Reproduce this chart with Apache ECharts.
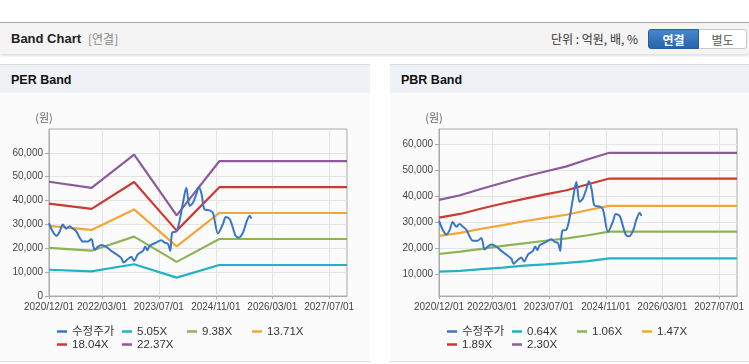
<!DOCTYPE html>
<html>
<head>
<meta charset="utf-8">
<script src="https://cdn.jsdelivr.net/npm/echarts@6/dist/echarts.min.js"></script>
<style>
body{margin:0;width:749px;height:364px;background:#fff;position:relative;overflow:hidden;font-family:'Liberation Sans','Noto Sans CJK KR',sans-serif}
.top{position:absolute;left:0;top:22px;width:749px;height:31px;border-top:1px solid #a8a8a8;background:#f4f4f4;box-shadow:0 2px 2px rgba(0,0,0,0.12)}
.top .ttl{position:absolute;left:11px;top:8px;font-size:13px;font-weight:bold;color:#222}
.top .sub{position:absolute;left:88px;top:9px;font-size:12px;color:#888;font-family:'Noto Sans CJK KR',sans-serif;line-height:14px}
.top .unit{position:absolute;left:551px;top:9px;font-size:12px;color:#333;font-family:'Noto Sans CJK KR',sans-serif;line-height:14px}
.btn{position:absolute;top:6px;height:20px;line-height:20px;font-size:12px;text-align:center;font-family:'Noto Sans CJK KR',sans-serif;box-sizing:border-box}
.b1{left:648px;width:51px;background:linear-gradient(#4386d0,#2a65ab);color:#fff;font-weight:bold;border-radius:3px 0 0 3px;border:1px solid #2a5d9c}
.b2{left:699px;width:48px;background:#fff;color:#555;border:1px solid #c8c8c8;border-left:none;border-radius:0 3px 3px 0}
.panel{position:absolute;top:64px;height:296px;background:#fbfbfb;border-top:1px solid #dcdcdc;border-bottom:1px solid #dcdcdc}
.panel .hd{height:28px;background:#eef2f7;font-size:12.5px;font-weight:bold;color:#111;line-height:30px;padding-left:11px}
.chart{position:absolute;left:0;top:29px;height:267px}
</style>
</head>
<body>
<div class="top">
  <div class="ttl">Band Chart</div>
  <div class="sub">[연결]</div>
  <div class="unit">단위 : 억원, 배, %</div>
  <div class="btn b1">연결</div>
  <div class="btn b2">별도</div>
</div>
<div class="panel" style="left:0;width:370px">
  <div class="hd">PER Band</div>
  <div class="chart" id="per" style="width:370px"></div>
</div>
<div class="panel" style="left:390px;width:359px">
  <div class="hd">PBR Band</div>
  <div class="chart" id="pbr" style="width:359px"></div>
</div>
<script>
// x축 눈금
const xTicks = ['2020-12-01','2022-03-01','2023-07-01','2024-11-01','2026-03-01','2027-07-01']
const xMin = '2020-12-01'
const xMax = '2027-12-01'

// 수정주가
const priceDates = ['2020-12-01','2021-01-02','2021-02-03','2021-03-01','2021-03-29','2021-04-28','2021-05-26','2021-06-24','2021-07-25','2021-08-20',
  '2021-09-18','2021-10-28','2021-11-29','2021-12-27','2022-01-22','2022-02-23','2022-04-06','2022-05-19','2022-07-01','2022-08-13',
  '2022-09-02','2022-10-09','2022-11-07','2022-11-30','2023-01-03','2023-02-15','2023-03-06','2023-03-25','2023-04-12','2023-06-09',
  '2023-07-22','2023-08-19','2023-09-17','2023-10-07','2023-10-24','2023-11-28','2023-12-26','2024-01-24','2024-02-22','2024-03-21',
  '2024-04-19','2024-05-17','2024-06-09','2024-07-02','2024-07-27','2024-09-09','2024-10-07','2024-11-20','2025-01-02','2025-01-25',
  '2025-03-01','2025-04-20','2025-05-18','2025-06-22','2025-07-20','2025-08-18','2025-09-02']
const priceValues = [30500,27000,25200,26800,30000,28200,29200,28200,27000,24500,
  22800,22800,23900,19400,20500,21400,20600,18900,17500,15900,
  14000,15500,16400,14800,17500,18900,20600,19200,21000,22400,
  23400,22400,21900,18900,26600,27000,31500,39100,45400,37700,
  39100,42600,45700,42600,36300,35900,34900,26200,30300,33100,
  32200,25200,24500,26600,30800,33600,32400]

// PER 밴드
const perDates = ['2020-12-01','2021-12-01','2022-12-01','2023-12-01','2024-12-01','2027-12-01']
const perNames = ['5.05X','9.38X','13.71X','18.04X','22.37X']
const per1 = [11000,10300,13300,7700,13000,13000]
const per2 = [20200,19000,24900,14300,23900,23900]
const per3 = [29400,27700,36300,20800,34800,34800]
const per4 = [38700,36500,47800,27400,45600,45600]
const per5 = [47900,45300,59300,33800,56500,56500]

// PBR 밴드
const pbrDates = ['2020-12-01','2021-06-01','2021-12-01','2022-06-01','2022-12-01','2023-06-01','2023-12-01','2024-06-01','2024-12-01','2027-12-01']
const pbrNames = ['0.64X','1.06X','1.47X','1.89X','2.30X']
const pbr1 = [10900,11200,11900,12500,13200,13700,14300,15000,16000,16000]
const pbr2 = [17700,18600,19700,20800,21800,22800,23700,24900,26300,26300]
const pbr3 = [24700,25800,27400,28800,30300,31600,32800,34600,36200,36200]
const pbr4 = [31700,33100,35200,37100,38900,40600,42200,44500,46700,46700]
const pbr5 = [38500,40300,42800,45100,47400,49400,51400,54100,56600,56600]

const yTicks = [0,10000,20000,30000,40000,50000,60000]
const yTicksPbr = [10000,20000,30000,40000,50000,60000]

const colors = ['#3776c8','#22b2c6','#8eb356','#f2a638','#cc3a30','#8b5b9c']

function t(s){
  let p = s.split('-')
  return new Date(+p[0], +p[1]-1, +p[2]).getTime()
}
function pad(n){
  return n < 10 ? '0'+n : ''+n
}
function comma(v){
  return String(v).replace(/\B(?=(\d{3})+(?!\d))/g, ',')
}
function pairs(dates, vals){
  return dates.map(function(d, i){ return [t(d), vals[i]] })
}

function makeOption(bandDates, names, bands, yMin, yMax, yLabels, gridRight){
  let series = [{
    name: '수정주가', type: 'line', z: 5, showSymbol: false, smooth: 0.3,
    color: colors[0], lineStyle: {width: 2},
    data: pairs(priceDates, priceValues)
  }]
  bands.forEach(function(b, i){
    series.push({
      name: names[i], type: 'line', showSymbol: false,
      color: colors[i+1], lineStyle: {width: 2.2},
      data: pairs(bandDates, b)
    })
  })
  return {
    animation: false,
    textStyle: {fontFamily: "'Liberation Sans','Noto Sans CJK KR',sans-serif"},
    grid: {left: 49, right: gridRight, top: 35, bottom: 65, show: true, borderColor: '#aaa', borderWidth: 1, backgroundColor: 'transparent'},
    legend: {
      left: 52, top: 226, width: 262, itemGap: 0, itemWidth: 10, itemHeight: 2.5, icon: 'rect',
      textStyle: {fontSize: 11.5, color: '#333', width: 50, lineHeight: 13},
      data: ['수정주가'].concat(names)
    },
    xAxis: {
      type: 'value', min: t(xMin), max: t(xMax),
      axisLine: {lineStyle: {color: '#aaa'}},
      axisTick: {show: true, length: 3, lineStyle: {color: '#aaa'}, customValues: xTicks.map(t)},
      axisLabel: {fontSize: 10, color: '#444', margin: 6, hideOverlap: false, customValues: xTicks.map(t),
        formatter: function(v){ let d = new Date(v); return d.getFullYear()+'/'+pad(d.getMonth()+1)+'/'+pad(d.getDate()) }},
      splitLine: {show: true, lineStyle: {color: '#e4e4e4'}}
    },
    yAxis: {
      type: 'value', min: yMin, max: yMax,
      name: '(원)', nameLocation: 'end', nameGap: 6,
      nameTextStyle: {fontSize: 11, color: '#666', align: 'center', padding: [0,10,0,0], fontFamily: 'Noto Sans CJK KR'},
      axisLine: {show: true, lineStyle: {color: '#aaa'}},
      axisTick: {show: true, length: 4, lineStyle: {color: '#aaa'}, customValues: yLabels},
      axisLabel: {fontSize: 10, color: '#444', margin: 6, customValues: yLabels, formatter: function(v){ return comma(v) }},
      splitLine: {show: true, lineStyle: {color: '#e4e4e4'}}
    },
    series: series
  }
}

let perChart = echarts.init(document.getElementById('per'))
perChart.setOption(makeOption(perDates, perNames, [per1, per2, per3, per4, per5], 0, 70000, yTicks, 23))

let pbrChart = echarts.init(document.getElementById('pbr'))
pbrChart.setOption(makeOption(pbrDates, pbrNames, [pbr1, pbr2, pbr3, pbr4, pbr5], 1560, 65750, yTicksPbr, 12))
</script>
</body>
</html>
